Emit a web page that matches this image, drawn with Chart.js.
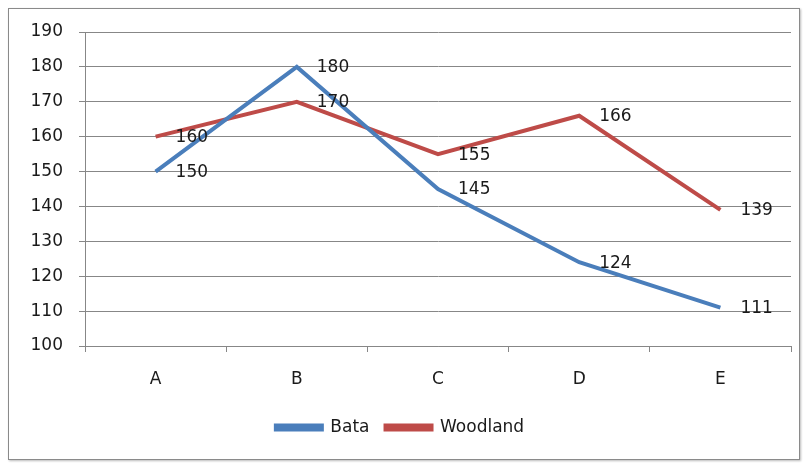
<!DOCTYPE html>
<html>
<head>
<meta charset="utf-8">
<script src="https://cdn.jsdelivr.net/npm/chart.js@4/dist/chart.umd.min.js"></script>
<style>
    body { margin: 0; background: #fff; }
    #wrap { position: relative; width: 804px; height: 466px; }
    #frame { position: absolute; left: 8px; top: 8px; width: 790px; height: 450px;
             border: 1px solid #8a8a8a; box-shadow: 1px 1px 2px #bbb; background: #fff; }
    canvas { display: block; }
</style>
</head>
<body>
<div id="wrap">
    <div id="frame"><canvas id="myChart" width="790" height="450"></canvas></div>
</div>
<script>
    var categories = ['A', 'B', 'C', 'D', 'E'];
    var bata = [150, 180, 145, 124, 111];
    var woodland = [160, 170, 155, 166, 139];
    var yTicks = [100, 110, 120, 130, 140, 150, 160, 170, 180, 190];

    var colors = {
        blue: '#4a7ebb',
        red: '#be4b48',
        grid: '#878787',
        text: '#1a1a1a'
    };
    var fontFamily = 'Tahoma, "DejaVu Sans", sans-serif';

    // write the value to the right of every point
    var valueLabels = {
        id: 'valueLabels',
        afterDatasetsDraw: function(chart) {
            var ctx = chart.ctx;
            ctx.save();
            ctx.font = '17px ' + fontFamily;
            ctx.fillStyle = colors.text;
            ctx.textAlign = 'left';
            ctx.textBaseline = 'middle';
            chart.data.datasets.forEach(function(ds, i) {
                chart.getDatasetMeta(i).data.forEach(function(pt, j) {
                    ctx.fillText(ds.data[j], pt.x + 20, pt.y + 1);
                });
            });
            ctx.restore();
        }
    };

    var ctx = document.getElementById('myChart').getContext('2d');
    var myChart = new Chart(ctx, {
        type: 'line',
        data: {
            labels: categories,
            datasets: [{
                label: 'Bata',
                data: bata,
                borderColor: colors.blue,
                backgroundColor: colors.blue,
                borderWidth: 4,
                pointRadius: 0,
                fill: false
            }, {
                label: 'Woodland',
                data: woodland,
                borderColor: colors.red,
                backgroundColor: colors.red,
                borderWidth: 4,
                pointRadius: 0,
                fill: false
            }]
        },
        options: {
            responsive: false,
            animation: false,
            layout: { padding: { left: 0, right: 8, top: 23, bottom: 13 } },
            plugins: {
                tooltip: { enabled: false },
                legend: {
                    display: true,
                    position: 'bottom',
                    labels: {
                        boxWidth: 46,
                        boxHeight: 4,
                        color: colors.text,
                        font: { family: fontFamily, size: 17 },
                        padding: 16
                    }
                }
            },
            scales: {
                x: {
                    offset: true,
                    grid: { offset: true, drawOnChartArea: false, drawTicks: true, tickLength: 6, color: colors.grid },
                    border: { color: colors.grid, width: 1 },
                    ticks: { color: colors.text, font: { family: fontFamily, size: 17 }, padding: 17 },
                    afterFit: function(scale) { scale.height = 57; }
                },
                y: {
                    min: 100,
                    max: 190,
                    afterBuildTicks: function(scale) {
                        scale.ticks = yTicks.map(function(v) { return { value: v }; });
                    },
                    grid: { color: colors.grid, tickLength: 6 },
                    border: { color: colors.grid, width: 1 },
                    ticks: { color: colors.text, font: { family: fontFamily, size: 17, lineHeight: 1 }, padding: 16 },
                    afterFit: function(scale) {
                        scale.width = 76;
                        scale.paddingTop = 0;
                        scale.paddingBottom = 0;
                    }
                }
            }
        },
        plugins: [valueLabels]
    });
</script>
</body>
</html>
